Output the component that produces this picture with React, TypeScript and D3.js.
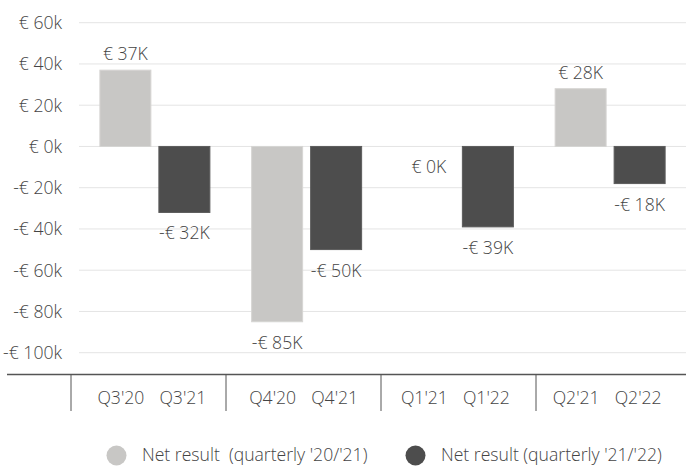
import React from "react";
import * as d3 from "d3";

const categories = ["Q3", "Q4", "Q1", "Q2"];
const labelsA = ["Q3'20", "Q4'20", "Q1'21", "Q2'21"];
const labelsB = ["Q3'21", "Q4'21", "Q1'22", "Q2'22"];
const seriesA = [37, -85, 0, 28];
const seriesB = [-32, -50, -39, -18];
const yTicks = [60, 40, 20, 0, -20, -40, -60, -80, -100];
const legendNames = ["Net result  (quarterly '20/'21)", "Net result (quarterly '21/'22)"];
const colors = ["#c8c7c5", "#4d4d4d"];

const W = 686;
const H = 466;
const FONT = "'Open Sans', 'Noto Sans', sans-serif";
const TXT = "#444";
const FS = 17.6;

export default function App() {
  const y = d3.scaleLinear().domain([-100, 60]).range([352.7, 22.7]);
  const x0 = d3.scaleBand<string>().domain(categories).range([79, 686]).paddingInner(0).paddingOuter(0);
  const bw = 51;
  const gap = 8;
  const sepX = d3.scaleLinear().domain([0, 4]).range([71, 691]);
  const axisY = 374.5;

  const fmtTick = (v: number) => (v < 0 ? `-€ ${-v}k` : `€ ${v}k`);
  const fmtLab = (v: number) => (v < 0 ? `-€ ${-v}K` : `€ ${v}K`);

  const bars: { cx: number; v: number; color: string; key: string }[] = [];
  categories.forEach((c, i) => {
    const center = (x0(c) as number) + x0.bandwidth() / 2;
    bars.push({ cx: center - gap / 2 - bw / 2, v: seriesA[i], color: colors[0], key: "a" + i });
    bars.push({ cx: center + gap / 2 + bw / 2, v: seriesB[i], color: colors[1], key: "b" + i });
  });

  const legendX = [116.5, 415.5];

  return (
    <svg width={W} height={H} style={{ position: "absolute", left: 0, top: 0, fontFamily: FONT, fontWeight: 300 }}>
      <rect width={W} height={H} fill="#fff" />
      {yTicks.map((t) => (
        <g key={t}>
          <line x1={79} x2={686} y1={y(t)} y2={y(t)} stroke="#e4e4e4" strokeWidth={1} />
          <text x={62} y={y(t) + 6.3} textAnchor="end" fontSize={FS} fill={TXT}>
            {fmtTick(t)}
          </text>
        </g>
      ))}
      {bars.map((b) => {
        const top = Math.min(y(b.v), y(0));
        const h = Math.abs(y(b.v) - y(0));
        const pos = b.v > 0;
        return (
          <g key={b.key}>
            {h > 0 && (
              <rect x={b.cx - bw / 2} y={top} width={bw} height={h} fill={b.color}
                stroke={b.color === colors[0] ? "#d6d5d3" : "#5c5c5c"} strokeWidth={1} />
            )}
            <text x={b.cx} y={pos ? y(b.v) - 10 : y(b.v) + 27} textAnchor="middle" fontSize={FS} fill={TXT}>
              {fmtLab(b.v)}
            </text>
          </g>
        );
      })}
      <line x1={7} x2={686} y1={axisY} y2={axisY} stroke="#555" strokeWidth={1.5} />
      {[0, 1, 2, 3].map((i) => (
        <line key={i} x1={sepX(i)} x2={sepX(i)} y1={axisY} y2={411} stroke="#555" strokeWidth={1} />
      ))}
      {categories.map((c, i) => {
        const center = (x0(c) as number) + x0.bandwidth() / 2;
        return (
          <g key={c}>
            <text x={center - 34} y={404} textAnchor="middle" fontSize={FS} fill={TXT}>{labelsA[i]}</text>
            <text x={center + 28} y={404} textAnchor="middle" fontSize={FS} fill={TXT}>{labelsB[i]}</text>
          </g>
        );
      })}
      {legendNames.map((n, i) => {
        const lx = legendX[i];
        return (
          <g key={n}>
            <circle cx={lx} cy={455.5} r={10} fill={colors[i]} />
            <text x={lx + 25.5} y={461.3} fontSize={FS} fill={TXT} style={{ whiteSpace: "pre" }}>{n}</text>
          </g>
        );
      })}
    </svg>
  );
}
